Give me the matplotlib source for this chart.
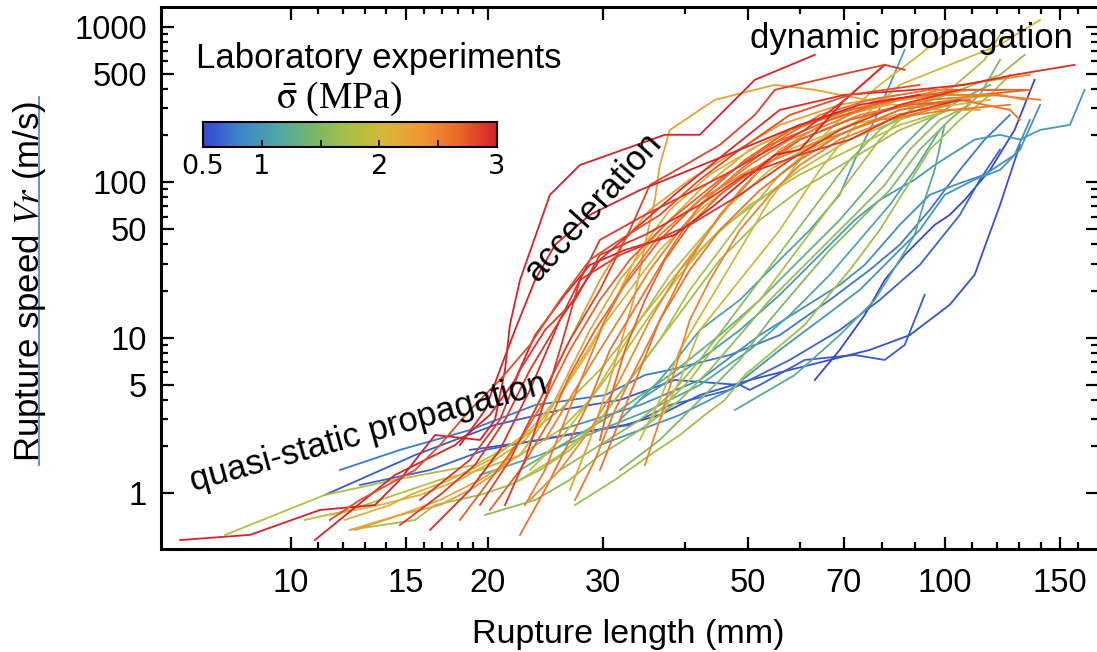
import matplotlib
matplotlib.use('Agg')
import matplotlib.pyplot as plt
import numpy as np
from matplotlib.colors import LinearSegmentedColormap, Normalize
from matplotlib.ticker import FixedLocator, FuncFormatter, NullFormatter
from matplotlib.lines import Line2D

# ---------------- data: rupture length (mm) L, rupture speed (m/s) V ----------------
B1_L = [11.27, 15.48, 20.51, 25.78, 31.84, 38.65, 48.57, 50.31, 52.11, 61.05, 72.79, 80.89, 86.79, 93.12]
B1_V = [0.975, 1.76, 2.75, 3.43, 3.98, 5.35, 4.97, 4.62, 4.97, 7.2, 7.75, 7.2, 8.99, 18.9]
B2_L = [18.78, 24.03, 32.42, 36.65, 42.19, 50.31, 57.91, 66.67, 76.74, 88.34, 101.7, 111, 121.4, 130.2]
B2_V = [1.9, 2.2, 2.75, 3.19, 4.28, 5.35, 6.21, 7.2, 8.35, 10.4, 16.3, 25.4, 71.5, 174]
B3_L = [63.24, 69.05, 75.4, 80.89, 86.79, 96.45, 101.7, 107.2, 117.2, 127.8, 137.1]
B3_V = [5.35, 8.35, 14.0, 23.5, 34.1, 53.2, 61.7, 77, 120, 217, 456]
B4_L = [11.88, 14.68, 18.78, 23.62, 30.22, 34.78, 37.97, 46.89, 55.91, 66.67, 76.74, 85.29, 94.79, 105.4, 115, 125.7]
B4_V = [1.41, 1.9, 2.55, 3.69, 4.28, 5.76, 6.21, 7.75, 10.4, 17.5, 27.3, 39.6, 66.4, 120, 188, 271]
B5_L = [12.75, 16.32, 19.81, 26.25, 32.98, 37.97, 46.89, 57.91, 69.05, 79.49, 91.51, 105.4, 113.1, 121.4]
B5_V = [1.13, 1.41, 1.9, 2.37, 2.75, 3.69, 4.62, 7.2, 11.2, 17.5, 29.4, 61.7, 104, 162]

T1_L = [34.16, 42.19, 48.57, 55.91, 63.24, 66.67, 72.79, 79.49, 89.9, 96.45, 111, 121.4, 130.2, 139.8, 155.3, 163.5]
T1_V = [3.98, 7.2, 11.2, 18.9, 31.7, 39.6, 57.2, 77, 104, 129, 188, 202, 188, 217, 234, 393]
T2_L = [47.73, 58.94, 69.05, 78.1, 85.29, 89.9, 93.12, 96.45, 99.9]
T2_V = [3.43, 5.76, 10.4, 17.5, 31.7, 45.9, 77, 120, 234]
T3_L = [25.78, 34.16, 42.19, 52.11, 59.99, 69.05, 75.4, 85.29, 94.79, 103.5, 115, 127.8, 134.9]
T3_V = [2.55, 3.69, 5.35, 10.4, 15.1, 21.9, 29.4, 53.2, 83, 96, 112, 150, 252]
T4_L = [29.68, 39.33, 46.89, 55.91, 64.36, 74.09, 82.34, 91.51, 99.9, 111, 121.4, 130.2, 139.8]
T4_V = [2.04, 3.19, 4.62, 8.35, 13.0, 20.3, 31.7, 49.3, 83, 104, 120, 162, 315]
T5_L = [31.84, 36.65, 42.19, 48.57, 55.91, 62.14, 69.05, 72.79, 78.1, 82.34, 86.79]
T5_V = [2.96, 5.35, 11.2, 17.5, 31.7, 49.3, 83, 139, 252, 423, 711]
T6_L = [22.4, 26.71, 31.84, 37.97, 45.27, 52.11, 59.99, 69.05, 76.74, 85.29, 94.79, 105.4, 117.2]
T6_V = [1.41, 2.2, 3.43, 5.76, 10.4, 17.5, 31.7, 57.2, 96, 162, 252, 339, 423]
T7_L = [19.46, 24.03, 29.68, 35.39, 42.19, 50.31, 57.91, 66.67, 74.09, 82.34, 89.9, 98.19]
T7_V = [1.31, 1.76, 2.55, 3.43, 4.97, 8.35, 14.0, 25.4, 42.6, 71.5, 120, 217]

G1_L = [7.93, 11.27, 14.42, 19.12, 22.4, 25.78, 29.68, 34.16, 39.33, 45.27, 52.11, 59.99, 71.53, 85.29, 105.4]
G1_V = [0.539, 0.975, 1.22, 1.52, 2.2, 3.43, 6.21, 13.0, 27.3, 49.3, 77, 120, 188, 252, 339]
G2_L = [27.19, 31.3, 35.39, 39.33, 42.95, 46.08, 49.44, 54.94, 61.05, 65.5, 71.53, 79.49, 86.79, 94.79, 105.4, 117.2, 125.7]
G2_V = [0.84, 1.22, 1.76, 2.37, 3.19, 3.98, 5.76, 8.35, 12.1, 17.5, 27.3, 49.3, 89, 162, 252, 365, 491]
G3_L = [25.78, 29.68, 34.16, 37.97, 42.19, 46.89, 52.11, 57.91, 64.36, 71.53, 79.49, 91.51, 105.4, 121.4, 132.4]
G3_V = [1.41, 2.04, 2.96, 4.28, 7.2, 13.0, 23.5, 42.6, 77, 139, 217, 315, 393, 491, 660]
G4_L = [22.4, 25.78, 29.68, 32.98, 36.65, 40.73, 45.27, 50.31, 55.91, 62.14, 71.53, 85.29, 101.7, 121.4]
G4_V = [1.22, 1.76, 2.96, 5.35, 9.68, 20.3, 36.7, 66.4, 112, 162, 217, 292, 339, 365]
G5_L = [23.2, 25.78, 28.65, 31.3, 34.16, 37.97, 42.19, 46.89, 53.98, 64.36, 76.74, 91.51, 109.2, 123.4]
G5_V = [1.41, 2.2, 3.98, 7.2, 13.0, 25.4, 42.6, 71.5, 120, 188, 271, 339, 393, 393]
G6_L = [31.84, 36.65, 42.19, 48.57, 53.98, 59.99, 66.67, 74.09, 82.34, 91.51, 101.7, 113.1, 121.4]
G6_V = [1.41, 2.2, 3.98, 7.2, 13.0, 21.9, 36.7, 57.2, 89, 162, 252, 365, 613]
G7_L = [35.39, 40.73, 45.27, 52.11, 57.91, 64.36, 71.53, 79.49, 88.34, 101.7, 115, 121.4]
G7_V = [2.96, 5.35, 9.68, 17.5, 31.7, 57.2, 104, 188, 292, 393, 613, 888]
G8_L = [10.5, 12.31, 14.42, 16.9, 19.46, 22.4, 25.78, 28.65, 31.84, 35.39, 39.33, 43.71, 50.31, 59.99, 71.53, 85.29, 101.7]
G8_V = [0.673, 0.781, 0.975, 1.22, 1.41, 1.76, 2.55, 3.98, 7.2, 14.0, 25.4, 42.6, 71.5, 112, 162, 234, 292]
G9_L = [12.31, 15.48, 16.61, 19.46, 21.62, 24.03, 26.71, 29.68, 32.98, 36.65, 40.73, 45.27, 52.11, 59.99, 71.53, 85.29, 101.7]
G9_V = [0.581, 0.673, 0.84, 0.975, 1.13, 1.41, 1.9, 2.96, 5.35, 9.68, 17.5, 31.7, 57.2, 89, 139, 217, 292]
G10_L = [19.81, 23.62, 26.71, 29.68, 34.16, 39.33, 43.71, 48.57, 53.98, 62.14, 71.53, 80.89, 88.34, 98.19, 109.2]
G10_V = [0.725, 0.905, 1.22, 1.76, 2.55, 3.98, 6.21, 10.4, 17.5, 31.7, 57.2, 96, 162, 252, 315]

Y1_L = [12.31, 14.68, 16.9, 19.46, 22.4, 24.46, 26.25, 28.65, 31.84, 36.65, 42.19, 50.31, 59.99, 76.74, 98.19]
Y1_V = [0.581, 0.725, 0.905, 1.22, 1.76, 2.96, 5.35, 11.2, 23.5, 49.3, 89, 162, 234, 315, 365]
Y2_L = [12.09, 14.17, 15.21, 17.51, 20.15, 23.2, 25.78, 28.65, 31.3, 34.16, 37.97, 43.71, 52.11, 64.36, 82.34]
Y2_V = [0.673, 0.84, 0.975, 1.22, 1.64, 2.55, 4.28, 8.35, 17.5, 36.7, 66.4, 112, 174, 252, 315]
Y3_L = [26.71, 28.65, 30.74, 33.58, 34.78, 36.02, 36.65, 37.97, 44.49, 54.94, 63.24, 69.05, 83.79, 98.19, 113.1]
Y3_V = [1.05, 2.2, 5.35, 18.9, 39.6, 77, 129, 217, 339, 423, 393, 365, 315, 292, 292]
Y4_L = [36.65, 39.33, 42.19, 48.57, 55.91, 64.36, 74.09, 85.29, 101.7, 121.4, 139.8]
Y4_V = [2.96, 5.35, 11.2, 23.5, 49.3, 120, 252, 423, 569, 766, 1109]
Y5_L = [34.16, 36.65, 39.33, 43.71, 48.57, 53.98, 59.99, 69.05, 79.49, 91.51, 101.7]
Y5_V = [2.2, 3.98, 8.35, 17.5, 36.7, 77, 139, 252, 423, 660, 957]
Y6_L = [12.53, 14.68, 16.9, 18.78, 20.87, 22.4, 24.03, 25.78, 27.66, 29.68, 32.42, 35.39, 40.73, 46.89, 55.91, 69.05, 85.29]
Y6_V = [0.581, 0.725, 0.84, 1.05, 1.41, 2.2, 3.98, 7.2, 13.0, 23.5, 42.6, 66.4, 104, 150, 234, 315, 365]
Y7_L = [11.47, 13.68, 15.75, 18.13, 20.51, 22.8, 24.89, 27.19, 29.68, 32.98, 36.65, 42.19, 48.57, 57.91, 71.53, 91.51, 117.2]
Y7_V = [0.725, 0.84, 0.975, 1.22, 1.64, 2.2, 3.43, 6.21, 11.2, 20.3, 36.7, 66.4, 104, 162, 234, 292, 339]

O1_L = [22.4, 24.46, 26.71, 28.65, 30.74, 34.16, 37.97, 42.19, 48.57, 55.91, 64.36, 76.74, 94.79, 121.4]
O1_V = [0.539, 1.05, 2.2, 3.98, 8.35, 17.5, 36.7, 71.5, 120, 188, 271, 339, 393, 393]
O2_L = [20.15, 22.4, 24.89, 26.71, 29.17, 32.42, 36.65, 42.19, 49.44, 57.91, 71.53, 91.51, 113.1, 134.9]
O2_V = [0.781, 1.41, 2.96, 5.76, 11.2, 21.9, 42.6, 77, 139, 217, 292, 365, 365, 393]
O3_L = [27.19, 29.17, 31.3, 34.16, 37.31, 40.73, 45.27, 52.11, 59.99, 74.09, 94.79, 117.2, 139.8]
O3_V = [0.905, 1.64, 3.43, 7.2, 15.1, 31.7, 61.7, 120, 188, 271, 339, 365, 339]
O4_L = [23.2, 25.78, 28.65, 31.84, 35.39, 39.33, 43.71, 48.57, 55.91, 66.67, 85.29, 105.4, 134.9]
O4_V = [0.905, 1.41, 2.55, 5.35, 13.0, 27.3, 49.3, 89, 162, 252, 339, 423, 491]
O5_L = [29.68, 31.84, 34.16, 36.65, 40.73, 45.27, 52.11, 59.99, 69.05, 85.29, 105.4, 125.7, 130.2]
O5_V = [1.41, 2.96, 6.21, 13.0, 27.3, 49.3, 89, 139, 202, 292, 339, 292, 252]
O6_L = [24.46, 27.19, 29.68, 32.42, 35.39, 39.33, 43.71, 50.31, 57.91, 69.05, 79.49, 101.7, 121.4, 132.4]
O6_V = [2.2, 4.62, 8.35, 15.1, 27.3, 49.3, 83, 129, 188, 252, 339, 365, 365, 339]
O7_L = [18.13, 20.15, 22.4, 24.46, 26.71, 29.68, 32.98, 37.97, 45.27, 53.98, 66.67, 82.34, 105.4, 132.4]
O7_V = [0.673, 1.22, 2.2, 3.98, 8.35, 17.5, 31.7, 57.2, 104, 174, 252, 339, 393, 393]
O8_L = [34.78, 36.65, 38.65, 40.73, 43.71, 48.57, 53.98, 59.99, 69.05, 82.34, 101.7]
O8_V = [1.52, 2.96, 6.21, 13.0, 23.5, 49.3, 83, 129, 188, 252, 315]
O9_L = [29.68, 30.74, 32.42, 34.78, 37.31, 40.73, 45.27, 52.11, 59.99, 71.53, 88.34, 109.2]
O9_V = [2.2, 3.98, 8.35, 17.5, 31.7, 53.2, 83, 129, 188, 252, 315, 339]
O10_L = [22.8, 24.46, 26.25, 28.16, 30.22, 32.98, 36.65, 42.19, 50.31, 62.14, 79.49, 101.7, 125.7]
O10_V = [0.84, 1.41, 2.96, 6.21, 13.0, 25.4, 45.9, 77, 120, 174, 252, 292, 315]

R1_L = [6.77, 8.66, 11.07, 13.44, 14.68, 16.61, 19.46, 20.51, 21.25, 21.62, 22.4, 24.89, 27.66, 37.31, 42.19, 51.21, 63.24]
R1_V = [0.50, 0.54, 0.78, 0.84, 1.22, 2.37, 2.2, 2.96, 6.21, 12.1, 23.5, 83, 129, 202, 202, 456, 660]
R2_L = [10.88, 14.42, 17.82, 20.15, 22.01, 23.62, 26.25, 28.65, 32.42, 38.65, 44.49, 49.44, 54.94, 59.99, 70.28, 80.89]
R2_V = [0.50, 1.31, 2.04, 3.19, 5.35, 10.4, 18.9, 29.4, 36.7, 45.9, 71.5, 104, 150, 162, 339, 569]
R3_L = [15.75, 18.78, 20.87, 22.4, 24.46, 27.19, 29.68, 34.78, 42.19, 49.44, 59.99, 71.53, 85.29, 105.4]
R3_V = [0.905, 1.64, 2.96, 6.21, 11.2, 17.5, 34.1, 45.9, 71.5, 112, 150, 188, 271, 339]
R4_L = [19.46, 21.62, 24.03, 26.71, 29.68, 32.98, 35.39, 40.03, 45.27, 51.21, 54.94, 69.05, 80.89]
R4_V = [0.84, 1.64, 3.98, 9.68, 20.3, 49.3, 96, 129, 174, 271, 393, 491, 569]
R5_L = [16.32, 18.78, 20.87, 23.2, 25.78, 29.68, 34.16, 39.33, 46.89, 55.91, 70.28, 89.9, 107.2, 127.8, 157.9]
R5_V = [0.581, 1.05, 1.9, 4.62, 13.0, 31.7, 53.2, 89, 162, 292, 365, 393, 423, 491, 569]
R6_L = [14.68, 16.9, 19.12, 21.25, 23.2, 25.78, 29.68, 34.78, 38.65, 46.08, 52.11, 61.05, 70.28, 80.89, 86.79]
R6_V = [0.625, 0.975, 1.52, 2.96, 6.21, 13.0, 42.6, 61.7, 77, 112, 150, 217, 339, 569, 529]
R7_L = [11.47, 12.75, 15.48, 16.9, 18.78, 20.87, 23.2, 25.78, 28.65, 31.84, 36.65, 42.19, 48.57, 57.91, 71.53, 91.51]
R7_V = [0.673, 0.905, 1.41, 2.04, 3.43, 5.35, 8.99, 17.5, 31.7, 42.6, 61.7, 104, 162, 271, 365, 423]
R8_L = [18.13, 19.81, 20.87, 22.01, 23.62, 25.34, 28.65, 34.16, 40.73, 48.57, 59.99, 74.09, 91.51]
R8_V = [2.04, 3.43, 6.21, 11.2, 23.5, 39.6, 61.7, 89, 120, 162, 234, 315, 365]
R9_L = [21.25, 22.8, 24.46, 25.78, 27.66, 31.84, 34.78, 40.73, 48.57, 57.91, 69.05, 85.29, 105.4]
R9_V = [0.84, 1.64, 3.98, 8.35, 23.5, 34.1, 39.6, 53.2, 83, 139, 217, 315, 393]

# mean normal stress (MPa) of each experiment, same order as CURVES
CURVES = [(B1_L, B1_V), (B2_L, B2_V), (B3_L, B3_V), (B4_L, B4_V), (B5_L, B5_V),
          (T1_L, T1_V), (T2_L, T2_V), (T3_L, T3_V), (T4_L, T4_V), (T5_L, T5_V), (T6_L, T6_V), (T7_L, T7_V),
          (G1_L, G1_V), (G2_L, G2_V), (G3_L, G3_V), (G4_L, G4_V), (G5_L, G5_V), (G6_L, G6_V),
          (G7_L, G7_V), (G8_L, G8_V), (G9_L, G9_V), (G10_L, G10_V),
          (Y1_L, Y1_V), (Y2_L, Y2_V), (Y3_L, Y3_V), (Y4_L, Y4_V), (Y5_L, Y5_V), (Y6_L, Y6_V), (Y7_L, Y7_V),
          (O1_L, O1_V), (O2_L, O2_V), (O3_L, O3_V), (O4_L, O4_V), (O5_L, O5_V), (O6_L, O6_V),
          (O7_L, O7_V), (O8_L, O8_V), (O9_L, O9_V), (O10_L, O10_V),
          (R1_L, R1_V), (R2_L, R2_V), (R3_L, R3_V), (R4_L, R4_V), (R5_L, R5_V), (R6_L, R6_V),
          (R7_L, R7_V), (R8_L, R8_V), (R9_L, R9_V)]
SIGMAS = [0.6, 0.55, 0.5, 0.75, 0.65,
          1.0, 1.2, 0.9, 0.95, 1.1, 1.3, 1.15,
          1.8, 1.7, 1.6, 1.8, 1.9, 1.5, 1.75, 1.85, 1.7, 1.6,
          2.2, 2.1, 2.25, 2.0, 2.0, 2.3, 2.1,
          2.6, 2.7, 2.55, 2.45, 2.6, 2.5, 2.7, 2.5, 2.7, 2.55,
          3.0, 3.0, 2.9, 2.85, 2.95, 2.9, 2.8, 3.0, 2.9]

X_MAJOR = [10, 15, 20, 30, 50, 70, 100, 150]
X_MINOR = [11, 12, 13, 14, 16, 17, 18, 19, 40, 60, 80, 90, 110, 120, 130, 140, 160]
Y_MAJOR = [1, 5, 10, 50, 100, 500, 1000]
Y_MINOR = [2, 3, 4, 6, 7, 8, 9, 20, 30, 40, 60, 70, 80, 90, 200, 300, 400, 600, 700, 800, 900]
CB_TICKS = [0.5, 1, 2, 3]
CB_MINOR = [1.5, 2.5]
CMAP_COLORS = ['#3548d4', '#3d86c8', '#4fa6a6', '#78b768', '#a9c146',
               '#dbb63a', '#f09632', '#ea6629', '#d62228']

# ---------------- figure ----------------
plt.rcParams['font.family'] = ['Liberation Sans', 'DejaVu Sans']
plt.rcParams['mathtext.fontset'] = 'stix'

W, H = 1097, 652
fig = plt.figure(figsize=(W / 100, H / 100), dpi=100)


def fx(px):
    return px / W


def fy(py):
    return 1 - py / H


ax = fig.add_axes([fx(161), fy(549), (1097.5 - 161) / W, (549 - 7) / H])
ax.set_xscale('log')
ax.set_yscale('log')

cmap = LinearSegmentedColormap.from_list('lab', CMAP_COLORS)
norm = Normalize(0.5, 3.0)
for (L, V), s in zip(CURVES, SIGMAS):
    ax.plot(L, V, color=cmap(norm(s)), lw=1.3)

ax.set_xlim(6.33, 171.1)
ax.set_ylim(0.438, 1340)

ax.xaxis.set_major_locator(FixedLocator(X_MAJOR))
ax.xaxis.set_minor_locator(FixedLocator(X_MINOR))
ax.yaxis.set_major_locator(FixedLocator(Y_MAJOR))
ax.yaxis.set_minor_locator(FixedLocator(Y_MINOR))
fmt = FuncFormatter(lambda v, p: f'{v:g}')
ax.xaxis.set_major_formatter(fmt)
ax.yaxis.set_major_formatter(fmt)
ax.xaxis.set_minor_formatter(NullFormatter())
ax.yaxis.set_minor_formatter(NullFormatter())
ax.tick_params(which='both', direction='in', top=True, right=True, width=1.6, color='black')
ax.tick_params(which='major', length=9, labelsize=23.5)
ax.tick_params(which='minor', length=5)
ax.tick_params(axis='x', which='major', pad=13.5)
ax.tick_params(axis='y', which='major', pad=10)
for sp in ax.spines.values():
    sp.set_linewidth(2.2)

# axis labels
fig.text(fx(628), fy(643), 'Rupture length (mm)', fontsize=24.5, ha='center', va='baseline')
fig.text(fx(39), fy(281), r'Rupture speed $Vr$ (m/s)', fontsize=25, rotation=90,
         rotation_mode='anchor', ha='center', va='baseline')
fig.add_artist(Line2D([fx(38.5), fx(38.5)], [fy(97), fy(465)], color='#5b8fe0', lw=1.4,
                      transform=fig.transFigure))

# annotations
fig.text(fx(750), fy(48), 'dynamic propagation', fontsize=25, ha='left', va='baseline')
fig.text(fx(600), fy(213), 'acceleration', fontsize=25, rotation=48,
         rotation_mode='anchor', ha='center', va='baseline')
fig.text(fx(371), fy(442), 'quasi-static propagation', fontsize=25, rotation=15.5,
         rotation_mode='anchor', ha='center', va='baseline')

# colorbar legend
fig.text(fx(196), fy(68), 'Laboratory experiments', fontsize=25, ha='left', va='baseline')
fig.text(fx(276), fy(108), r'$\bar{\mathrm{\sigma}}$ (MPa)', fontsize=27, ha='left', va='baseline',
         family=['Liberation Serif', 'DejaVu Serif'])
cax = fig.add_axes([fx(203), fy(147), 294 / W, 25 / H])
grad = np.linspace(0.5, 3.0, 256)[None, :]
cax.imshow(grad, cmap=cmap, norm=norm, aspect='auto', extent=[0.5, 3.0, 0, 1])
cax.set_xlim(0.5, 3.0)
cax.set_ylim(0, 1)
cax.set_yticks([])
cax.xaxis.set_major_locator(FixedLocator(CB_TICKS))
cax.xaxis.set_minor_locator(FixedLocator(CB_MINOR))
cax.xaxis.set_major_formatter(fmt)
cax.tick_params(which='both', direction='in', length=5, width=1.2, top=False, bottom=True)
cax.tick_params(which='major', labelsize=19.5, pad=5)
for lab in cax.get_xticklabels():
    lab.set_family('DejaVu Sans')
for sp in cax.spines.values():
    sp.set_linewidth(1.5)

fig.savefig('out.png', dpi=100)
